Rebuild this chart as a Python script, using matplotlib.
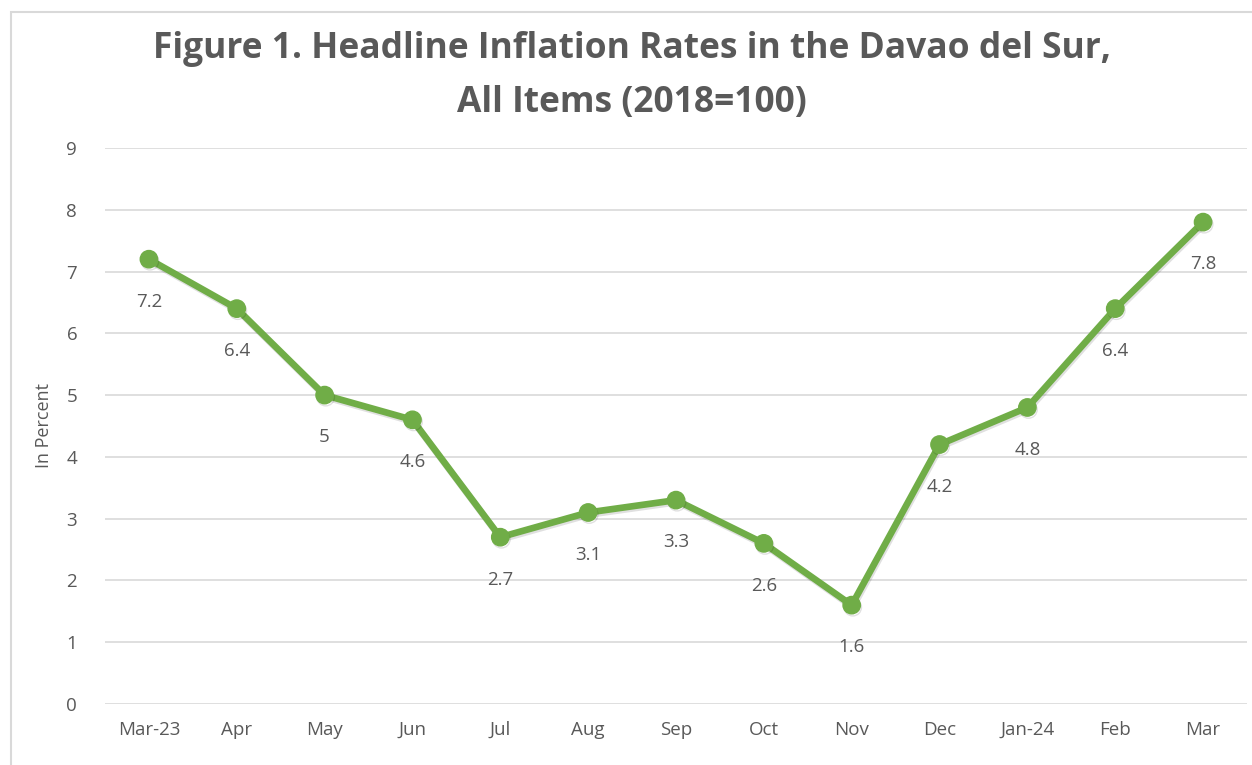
import matplotlib.pyplot as plt
import matplotlib.patheffects as pe
from matplotlib.patches import Rectangle

# data
months = ['Mar-23', 'Apr', 'May', 'Jun', 'Jul', 'Aug', 'Sep', 'Oct', 'Nov',
          'Dec', 'Jan-24', 'Feb', 'Mar']
rates = [7.2, 6.4, 5, 4.6, 2.7, 3.1, 3.3, 2.6, 1.6, 4.2, 4.8, 6.4, 7.8]
rate_labels = ['7.2', '6.4', '5', '4.6', '2.7', '3.1', '3.3', '2.6', '1.6',
               '4.2', '4.8', '6.4', '7.8']

txt = '#595959'
green = '#70AD47'
plt.rcParams['font.family'] = ['Open Sans', 'DejaVu Sans']

fig = plt.figure(figsize=(12.52, 7.65), dpi=100)
ax = fig.add_axes([105/1252, 1-704/765, 1142/1252, (704-148)/765])

# chart border (runs off the image at right/bottom)
fig.patches.append(Rectangle((11/1252, -0.05), 1.2, 1-12/765+0.05,
                             transform=fig.transFigure, fill=False,
                             edgecolor='#D9D9D9', linewidth=1.5))

x = list(range(len(months)))
ax.plot(x, rates, color=green, linewidth=4.8, marker='o', markersize=12.5,
        solid_capstyle='round', zorder=3,
        path_effects=[pe.SimpleLineShadow(offset=(0.8, -1.5), alpha=0.12),
                      pe.Normal()])

for i, v in enumerate(rates):
    ax.annotate(rate_labels[i], (i, v), xytext=(0, -24), textcoords='offset points',
                ha='center', va='top', fontsize=13.5, color=txt)

ax.set_xlim(-0.5, len(months) - 0.5)
ax.set_ylim(0, 9)
ax.set_yticks(range(10))
ax.set_xticks(x)
ax.set_xticklabels(months)
ax.tick_params(axis='both', length=0, labelsize=13.5, labelcolor=txt)
ax.tick_params(axis='x', pad=12)
ax.tick_params(axis='y', pad=20)
ax.grid(axis='y', color='#D9D9D9', linewidth=1.2)
ax.set_axisbelow(True)
for s in ax.spines.values():
    s.set_visible(False)

ax.set_ylabel('In Percent', fontsize=13, color=txt, labelpad=10)

fig.text(0.505, 0.96, 'Figure 1. Headline Inflation Rates in the Davao del Sur,\nAll Items (2018=100)',
         ha='center', va='top', fontsize=25.5, fontweight='bold', color=txt,
         linespacing=1.68)

fig.savefig('out.png', dpi=100)
